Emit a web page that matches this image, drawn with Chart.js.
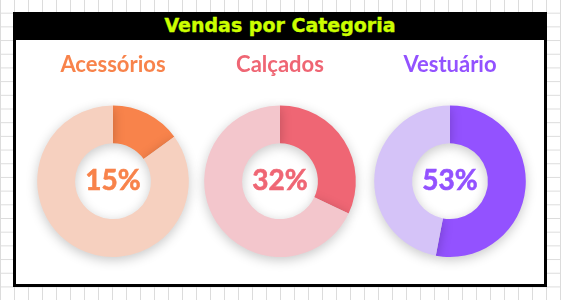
<!DOCTYPE html>
<html lang="pt">
<head>
<meta charset="utf-8">
<title>Vendas por Categoria</title>
<script src="https://cdn.jsdelivr.net/npm/chart.js@4.4.1/dist/chart.umd.min.js"></script>
<style>
    html, body {
        margin: 0;
        padding: 0;
        width: 561px;
        height: 300px;
        overflow: hidden;
    }
    body {
        background-color: #fff;
        background-image:
            linear-gradient(to right, #dcdcdc 1px, transparent 1px),
            linear-gradient(to bottom, #dcdcdc 1px, transparent 1px);
        background-size: 14px 13.7px;
        background-position: 0 -1px;
        position: relative;
    }
    #box {
        position: absolute;
        left: 13px;
        top: 12px;
        width: 528px;
        height: 269px;
        border: 3px solid #000;
        background: #fff;
    }
    #title {
        height: 25px;
        background: #000;
        color: #ccff00;
        font-family: "DejaVu Sans", sans-serif;
        font-weight: bold;
        font-size: 19px;
        line-height: 20px;
        text-align: center;
        -webkit-text-stroke: 0.4px #ccff00;
    }
    .chart-wrap {
        position: absolute;
        top: 45px;
        width: 192px;
        height: 232px;
    }
</style>
</head>
<body>
<div id="box">
    <div id="title">Vendas por Categoria</div>
</div>
<div class="chart-wrap" style="left:17px"><canvas id="chart0"></canvas></div>
<div class="chart-wrap" style="left:184px"><canvas id="chart1"></canvas></div>
<div class="chart-wrap" style="left:354px"><canvas id="chart2"></canvas></div>

<script>
// Chart data
const categories = ['Acessórios', 'Calçados', 'Vestuário'];
const shares = [15, 32, 53];
const remainders = [85, 68, 47];

// Colours per category
const mainColors = ['#f8834b', '#ef6674', '#9352ff'];
const lightColors = ['#f6d0bf', '#f3c6cc', '#d5c3f8'];

// Soft shadow under the rings
const shadowPlugin = {
    id: 'ringShadow',
    beforeDatasetsDraw(chart) {
        const ctx = chart.ctx;
        ctx.save();
        ctx.shadowColor = 'rgba(0, 0, 0, 0.22)';
        ctx.shadowBlur = 12;
        ctx.shadowOffsetY = 3;
    },
    afterDatasetsDraw(chart) {
        chart.ctx.restore();
    }
};

// Percentage in the middle of the ring
const centerTextPlugin = {
    id: 'centerText',
    afterDraw(chart, args, opts) {
        const arc = chart.getDatasetMeta(0).data[0];
        if (!arc) return;
        const ctx = chart.ctx;
        ctx.save();
        ctx.font = 'bold 28px Lato, sans-serif';
        ctx.fillStyle = opts.color;
        ctx.strokeStyle = opts.color;
        ctx.lineWidth = 0.6;
        ctx.textAlign = 'center';
        ctx.textBaseline = 'middle';
        ctx.fillText(opts.text, arc.x, arc.y);
        ctx.strokeText(opts.text, arc.x, arc.y);
        ctx.restore();
    }
};

function buildChart(i) {
    const ctx = document.getElementById('chart' + i).getContext('2d');

    return new Chart(ctx, {
        type: 'doughnut',
        data: {
            labels: [categories[i], 'Outros'],
            datasets: [{
                data: [shares[i], remainders[i]],
                backgroundColor: [mainColors[i], lightColors[i]],
                borderWidth: 0,
                hoverOffset: 0
            }]
        },
        options: {
            responsive: true,
            maintainAspectRatio: false,
            animation: false,
            cutout: '50%',
            layout: {
                padding: { left: 20, right: 20, top: 0, bottom: 20 }
            },
            plugins: {
                legend: { display: false },
                tooltip: { enabled: false },
                title: {
                    display: true,
                    text: categories[i],
                    color: mainColors[i],
                    font: { family: 'Lato, sans-serif', size: 22, weight: 'bold' },
                    padding: { top: 7, bottom: 27 }
                },
                centerText: {
                    text: shares[i] + '%',
                    color: mainColors[i]
                }
            }
        },
        plugins: [shadowPlugin, centerTextPlugin]
    });
}

categories.forEach((c, i) => buildChart(i));
</script>
</body>
</html>
